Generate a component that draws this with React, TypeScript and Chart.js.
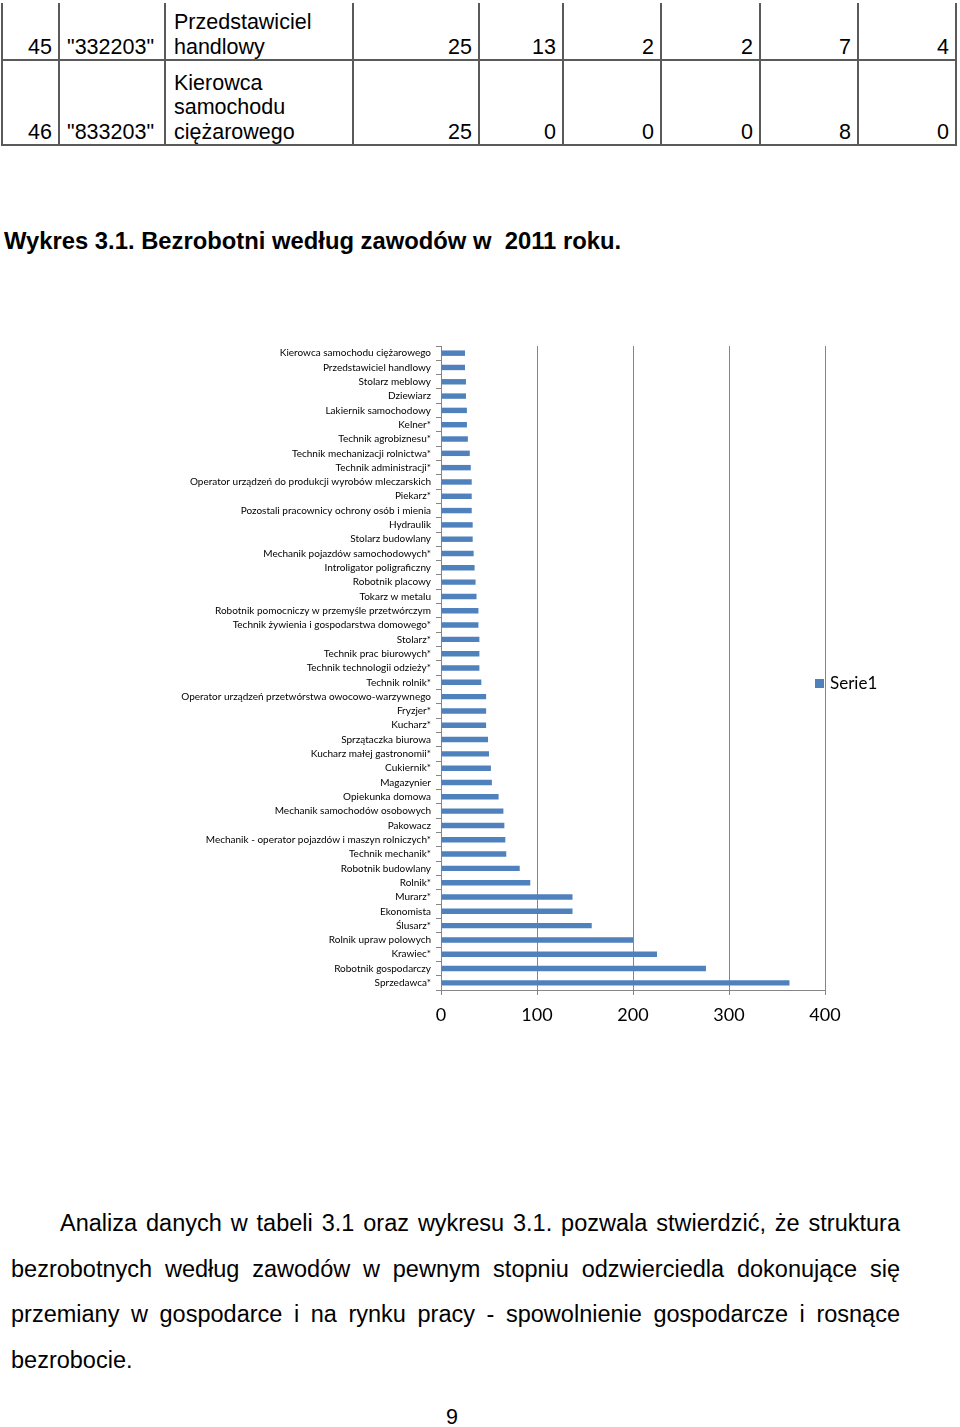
import React, { useEffect, useRef } from "react";
import { Chart, registerables } from "chart.js";

Chart.register(...registerables);

const occupations: string[] = [
  "Kierowca samochodu ciężarowego",
  "Przedstawiciel handlowy",
  "Stolarz meblowy",
  "Dziewiarz",
  "Lakiernik samochodowy",
  "Kelner*",
  "Technik agrobiznesu*",
  "Technik mechanizacji rolnictwa*",
  "Technik administracji*",
  "Operator urządzeń do produkcji wyrobów mleczarskich",
  "Piekarz*",
  "Pozostali pracownicy ochrony osób i mienia",
  "Hydraulik",
  "Stolarz budowlany",
  "Mechanik pojazdów samochodowych*",
  "Introligator poligraficzny",
  "Robotnik placowy",
  "Tokarz w metalu",
  "Robotnik pomocniczy w przemyśle przetwórczym",
  "Technik żywienia i gospodarstwa domowego*",
  "Stolarz*",
  "Technik prac biurowych*",
  "Technik technologii odzieży*",
  "Technik rolnik*",
  "Operator urządzeń przetwórstwa owocowo-warzywnego",
  "Fryzjer*",
  "Kucharz*",
  "Sprzątaczka biurowa",
  "Kucharz małej gastronomii*",
  "Cukiernik*",
  "Magazynier",
  "Opiekunka domowa",
  "Mechanik samochodów osobowych",
  "Pakowacz",
  "Mechanik - operator pojazdów i maszyn rolniczych*",
  "Technik mechanik*",
  "Robotnik budowlany",
  "Rolnik*",
  "Murarz*",
  "Ekonomista",
  "Ślusarz*",
  "Rolnik upraw polowych",
  "Krawiec*",
  "Robotnik gospodarczy",
  "Sprzedawca*",
];

const serie1: number[] = [
  25, 25, 26, 26, 27, 27, 28, 30, 31, 32, 32, 32, 33, 33, 34, 35, 36, 37, 39, 39,
  40, 40, 40, 42, 47, 47, 47, 49, 50, 52, 53, 60, 65, 66, 67, 68, 82, 93, 137, 137,
  157, 200, 225, 276, 363,
];

const seriesName = "Serie1";
const xTicks: number[] = [0, 100, 200, 300, 400];

const tableNumbers: string[] = ["45", "46"];
const tableCodes: string[] = ['"332203"', '"833203"'];
const tableNames: string[][] = [
  ["Przedstawiciel", "handlowy"],
  ["Kierowca", "samochodu", "ciężarowego"],
];
const tableValues: number[][] = [
  [25, 13, 2, 2, 7, 4],
  [25, 0, 0, 0, 8, 0],
];

const titleText = "Wykres 3.1. Bezrobotni według zawodów w  2011 roku.";
const paragraphLines: string[] = [
  "Analiza danych w tabeli 3.1 oraz wykresu 3.1. pozwala stwierdzić, że struktura",
  "bezrobotnych według zawodów w pewnym stopniu odzwierciedla dokonujące się",
  "przemiany w gospodarce i na rynku pracy - spowolnienie gospodarcze i rosnące",
  "bezrobocie.",
];
const pageNumber = "9";

const BAR_COLOR = "#4F81BD";
const GRID_COLOR = "#868686";
const ARIAL = '"Liberation Sans", Arial, sans-serif';
const CALIBRI = 'Lato, "Open Sans", sans-serif';

function Txt(props: {
  x: number;
  base: number;
  size: number;
  bold?: boolean;
  align?: "left" | "right";
  children: React.ReactNode;
}) {
  const { x, base, size, bold, align = "left", children } = props;
  const style: React.CSSProperties = {
    position: "absolute",
    top: base - 0.8465 * size,
    fontFamily: ARIAL,
    fontSize: size,
    lineHeight: `${size}px`,
    fontWeight: bold ? "bold" : "normal",
    whiteSpace: "pre",
    color: "#000",
  };
  if (align === "right") style.right = 960 - x;
  else style.left = x;
  return <div style={style}>{children}</div>;
}

const legendPlugin = {
  id: "excelLegend",
  afterDraw(chart: any) {
    const ctx = chart.ctx;
    const area = chart.chartArea;
    const ds = chart.data.datasets[0];
    const cy = chart.height / 2 + 4;
    const bx = area.right - 10;
    ctx.save();
    ctx.fillStyle = ds.backgroundColor;
    ctx.fillRect(bx, cy - 5, 9, 9);
    ctx.fillStyle = "#000";
    ctx.font = `17px ${CALIBRI}`;
    ctx.textBaseline = "middle";
    ctx.textAlign = "left";
    ctx.fillText(ds.label, bx + 15, cy);
    ctx.restore();
  },
};

function BarChart() {
  const ref = useRef<HTMLCanvasElement | null>(null);
  useEffect(() => {
    if (!ref.current) return;
    const chart = new Chart(ref.current, {
      type: "bar",
      data: {
        labels: occupations,
        datasets: [
          {
            label: seriesName,
            data: serie1,
            backgroundColor: BAR_COLOR,
            borderWidth: 0,
            barPercentage: 0.38,
            categoryPercentage: 1,
          },
        ],
      },
      options: {
        indexAxis: "y",
        animation: false,
        responsive: true,
        maintainAspectRatio: false,
        layout: { padding: { left: 0, right: 135, top: 46, bottom: 0 } },
        plugins: {
          legend: { display: false },
          tooltip: { enabled: false },
        },
        scales: {
          x: {
            min: xTicks[0],
            max: xTicks[xTicks.length - 1],
            afterBuildTicks: (scale: any) => {
              scale.ticks = xTicks.map((v) => ({ value: v }));
            },
            afterFit: (scale: any) => {
              scale.height = 70;
            },
            grid: { color: GRID_COLOR, lineWidth: 1, drawTicks: true, tickLength: 5 },
            border: { display: true, color: GRID_COLOR, width: 1 },
            ticks: {
              color: "#000",
              padding: 9,
              font: { family: CALIBRI, size: 18 },
              maxRotation: 0,
            },
          },
          y: {
            afterFit: (scale: any) => {
              scale.width = 441;
            },
            grid: {
              drawOnChartArea: false,
              drawTicks: true,
              tickLength: 5,
              color: GRID_COLOR,
              offset: true,
            },
            border: { display: true, color: GRID_COLOR, width: 1 },
            ticks: {
              color: "#000",
              padding: 5,
              autoSkip: false,
              font: { family: CALIBRI, size: 10 },
            },
          },
        },
      },
      plugins: [legendPlugin],
    });
    return () => chart.destroy();
  }, []);
  return (
    <div style={{ position: "absolute", left: 0, top: 300, width: 960, height: 760 }}>
      <canvas ref={ref} />
    </div>
  );
}

export default function App() {
  const colX = [2, 59, 165, 353, 479, 563, 661, 760, 858, 956];
  const rowBases = [
    [29.7, 54.7],
    [90.7, 115.2, 139.7],
  ];
  const lineColor = "#5a5a5a";
  return (
    <div
      style={{
        position: "absolute",
        left: 0,
        top: 0,
        width: 960,
        height: 1427,
        overflow: "hidden",
        background: "#fff",
      }}
    >
      {colX.map((x, i) => (
        <div
          key={"v" + i}
          style={{ position: "absolute", left: x - 0.75, top: 3, width: 1.5, height: 143, background: lineColor }}
        />
      ))}
      {[60, 145].map((y, i) => (
        <div
          key={"h" + i}
          style={{ position: "absolute", left: 1, top: y - 0.75, width: 956, height: 1.5, background: lineColor }}
        />
      ))}
      {tableNumbers.map((n, r) => {
        const bases = rowBases[r];
        const last = bases[bases.length - 1];
        return (
          <React.Fragment key={"r" + r}>
            <Txt x={colX[1] - 7} base={last} size={21.5} align="right">
              {n}
            </Txt>
            <Txt x={colX[1] + 8} base={last} size={21.5}>
              {tableCodes[r]}
            </Txt>
            {tableNames[r].map((line, li) => (
              <Txt key={li} x={colX[2] + 9} base={bases[li]} size={21.5}>
                {line}
              </Txt>
            ))}
            {tableValues[r].map((v, ci) => (
              <Txt key={"c" + ci} x={colX[4 + ci] - 7} base={last} size={21.5} align="right">
                {String(v)}
              </Txt>
            ))}
          </React.Fragment>
        );
      })}

      <Txt x={4} base={249.5} size={23.8} bold>
        {titleText}
      </Txt>

      <BarChart />

      {paragraphLines.map((line, i) => {
        const size = 23.5;
        const base = 1232 + i * 45.6;
        const left = i === 0 ? 60 : 11;
        const justify = i < paragraphLines.length - 1;
        return (
          <div
            key={"p" + i}
            style={{
              position: "absolute",
              left,
              width: 900 - left,
              top: base - 0.8465 * size,
              fontFamily: ARIAL,
              fontSize: size,
              lineHeight: `${size}px`,
              whiteSpace: "nowrap",
              textAlign: justify ? "justify" : "left",
              textAlignLast: justify ? "justify" : "left",
              color: "#000",
            }}
          >
            {line}
          </div>
        );
      })}

      <Txt x={446} base={1425} size={21.5}>
        {pageNumber}
      </Txt>
    </div>
  );
}
